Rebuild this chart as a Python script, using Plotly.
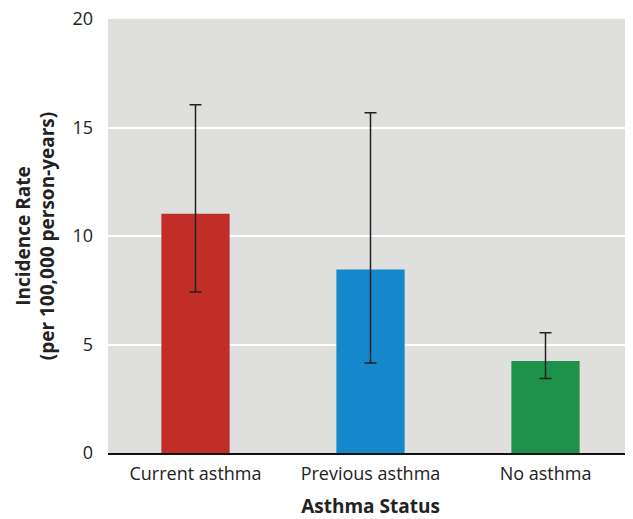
import plotly.graph_objects as go

categories = ["Current asthma", "Previous asthma", "No asthma"]
rates = [11.03, 8.46, 4.24]
ci_upper = [16.05, 15.68, 5.54]
ci_lower = [7.42, 4.15, 3.43]
colors = ["#C12D27", "#1488CA", "#1D914A"]
y_ticks = [0, 5, 10, 15, 20]

err_plus = [u - r for u, r in zip(ci_upper, rates)]
err_minus = [r - l for r, l in zip(rates, ci_lower)]

fig = go.Figure(go.Bar(
    x=categories, y=rates, marker_color=colors, marker_line_width=0,
    error_y=dict(type="data", symmetric=False, array=err_plus, arrayminus=err_minus,
                 color="#222222", thickness=1.5, width=6),
))

font_family = "Open Sans, DejaVu Sans, sans-serif"
# page body has an 8px margin, so the figure is sized to fit the window
fig.update_layout(
    width=625, height=511,
    margin=dict(l=100, r=0, t=11, b=66),
    paper_bgcolor="white", plot_bgcolor="#DFDFDD",
    bargap=0.61, showlegend=False,
    font=dict(family=font_family, size=18, color="#222222"),
    xaxis=dict(
        title=dict(text="<b>Asthma Status</b>", font=dict(size=19), standoff=19),
        showline=True, linecolor="#111111", linewidth=2,
        tickfont=dict(size=18), ticks="", ticklabelstandoff=3, automargin=False,
    ),
    yaxis=dict(
        title=dict(text="<b>Incidence Rate<br>(per 100,000 person-years)</b>", font=dict(size=19), standoff=12),
        range=[0, 20], tickvals=y_ticks, ticks="",
        gridcolor="white", gridwidth=2, zeroline=False,
        tickfont=dict(size=18), ticklabelstandoff=14, automargin=False,
        ticklabeloverflow="allow",
    ),
)

fig.write_html("out.html")
